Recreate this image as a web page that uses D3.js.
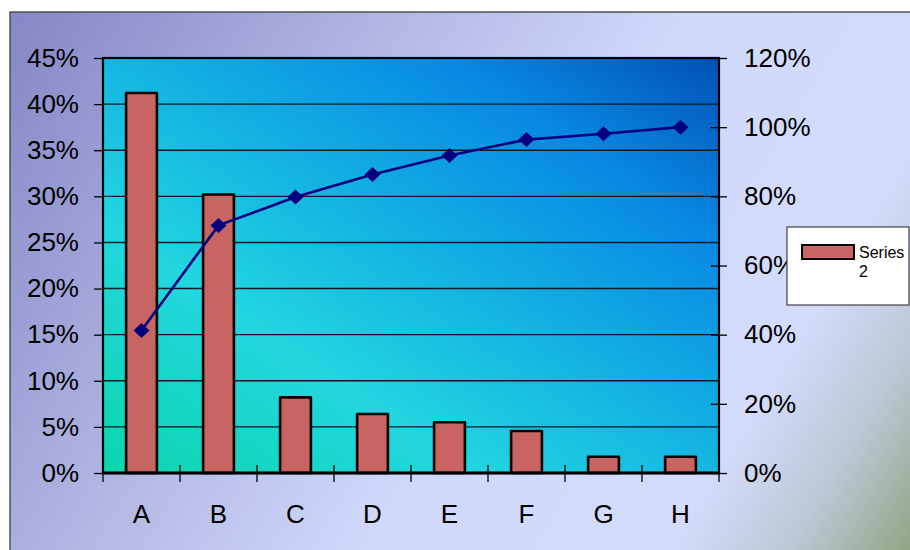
<!DOCTYPE html>
<html>
<head>
<meta charset="utf-8">
<script src="https://cdn.jsdelivr.net/npm/d3@7"></script>
<style>
  html, body { margin: 0; padding: 0; background: #fff; }
  svg { display: block; }
  text { font-family: "Liberation Sans", Arial, sans-serif; fill: #000; }
</style>
</head>
<body>
<svg id="chart" width="910" height="550"></svg>
<script>
// Pareto data: share of each category (bars, left axis) and running total (line, right axis)
const categories = ["A", "B", "C", "D", "E", "F", "G", "H"];
const shareValues = [41.2, 30.2, 8.2, 6.4, 5.5, 4.55, 1.77, 1.77];
const cumulativeValues = [41.2, 71.6, 79.8, 86.3, 91.8, 96.4, 98.1, 100];
const leftTicks = [0, 5, 10, 15, 20, 25, 30, 35, 40, 45];
const rightTicks = [0, 20, 40, 60, 80, 100, 120];
const legendLines = ["Series", "2"];

const svg = d3.select("#chart");
const defs = svg.append("defs");

// Chart-area background gradient
const bg = defs.append("linearGradient").attr("id", "bgGrad")
  .attr("gradientUnits", "userSpaceOnUse")
  .attr("x1", 10).attr("y1", 12).attr("x2", 910).attr("y2", 550);
[[0, "#8587c6"], [0.3, "#b0b4e2"], [0.55, "#d0d8fa"], [0.8, "#d4dcfc"], [0.9, "#bcc8d6"], [1, "#90a684"]]
  .forEach(([o, c]) => bg.append("stop").attr("offset", o).attr("stop-color", c));

// Plot-area gradient: teal at bottom-left to deep blue at top-right
const pg = defs.append("linearGradient").attr("id", "plotGrad")
  .attr("x1", 0).attr("y1", 1).attr("x2", 1).attr("y2", 0);
[[0, "#0cd6ac"], [0.3, "#22d6e0"], [0.55, "#12aee2"], [0.78, "#0888e4"], [1, "#0250b4"]]
  .forEach(([o, c]) => pg.append("stop").attr("offset", o).attr("stop-color", c));

svg.append("rect")
  .attr("x", 10).attr("y", 12).attr("width", 910).attr("height", 550)
  .attr("fill", "url(#bgGrad)")
  .attr("stroke", "#505058").attr("stroke-width", 1.5);

const plot = { left: 103, right: 719, top: 58, bottom: 473 };

const x = d3.scaleBand().domain(categories).range([plot.left, plot.right]).padding(0);
const yL = d3.scaleLinear().domain([0, 45]).range([plot.bottom, plot.top]);
const yR = d3.scaleLinear().domain([0, 120]).range([plot.bottom, plot.top]);

// Plot background
svg.append("rect")
  .attr("x", plot.left).attr("y", plot.top)
  .attr("width", plot.right - plot.left).attr("height", plot.bottom - plot.top)
  .attr("fill", "url(#plotGrad)");

// Horizontal gridlines
svg.append("g").selectAll("line")
  .data(leftTicks.filter(t => t > 0 && t < 45))
  .join("line")
  .attr("x1", plot.left).attr("x2", plot.right)
  .attr("y1", d => yL(d)).attr("y2", d => yL(d))
  .attr("stroke", "#0a1a24").attr("stroke-width", 1.4);

// Bars
const barW = x.bandwidth() * 0.4;
svg.append("g").selectAll("rect")
  .data(categories)
  .join("rect")
  .attr("x", d => x(d) + (x.bandwidth() - barW) / 2)
  .attr("y", (d, i) => yL(shareValues[i]))
  .attr("width", barW)
  .attr("height", (d, i) => yL(0) - yL(shareValues[i]))
  .attr("fill", "#c86562")
  .attr("stroke", "#000").attr("stroke-width", 2.6)
  .attr("stroke-linejoin", "round");

// Cumulative line
const cx = d => x(d) + x.bandwidth() / 2;
const line = d3.line()
  .x((d, i) => cx(categories[i]))
  .y(d => yR(d));
svg.append("path")
  .datum(cumulativeValues)
  .attr("d", line)
  .attr("fill", "none")
  .attr("stroke", "#00007e").attr("stroke-width", 2.6);

// Diamond markers
svg.append("g").selectAll("path")
  .data(cumulativeValues)
  .join("path")
  .attr("transform", (d, i) => `translate(${cx(categories[i])},${yR(d)})`)
  .attr("d", "M0,-7.5L8,0L0,7.5L-8,0Z")
  .attr("fill", "#00007e");

// Plot frame
svg.append("rect")
  .attr("x", plot.left).attr("y", plot.top)
  .attr("width", plot.right - plot.left).attr("height", plot.bottom - plot.top)
  .attr("fill", "none").attr("stroke", "#000").attr("stroke-width", 2.2);
svg.append("line")
  .attr("x1", plot.left - 1).attr("x2", plot.right + 1)
  .attr("y1", plot.bottom).attr("y2", plot.bottom)
  .attr("stroke", "#000").attr("stroke-width", 3);

// Left axis
const axL = svg.append("g")
  .attr("transform", `translate(${plot.left},0)`)
  .call(d3.axisLeft(yL).tickValues(leftTicks).tickFormat(d => d + "%").tickSize(9).tickPadding(15));
axL.select(".domain").remove();
axL.selectAll("line").attr("stroke", "#000").attr("stroke-width", 1.3);
axL.selectAll("text").style("font-size", "26px")
  .style("font-family", '"Liberation Sans", Arial, sans-serif');

// Right axis (cross tick marks)
const axR = svg.append("g")
  .attr("transform", `translate(${plot.right},0)`)
  .call(d3.axisRight(yR).tickValues(rightTicks).tickFormat(d => d + "%").tickSize(8).tickPadding(17));
axR.select(".domain").remove();
axR.selectAll(".tick line").attr("x1", -8).attr("stroke", "#000").attr("stroke-width", 1.3);
axR.selectAll("text").style("font-size", "26px")
  .style("font-family", '"Liberation Sans", Arial, sans-serif');

// Bottom axis labels
const axB = svg.append("g")
  .attr("transform", `translate(0,${plot.bottom})`)
  .call(d3.axisBottom(x).tickSize(0).tickPadding(31.5));
axB.select(".domain").remove();
axB.selectAll("text").style("font-size", "26px")
  .style("font-family", '"Liberation Sans", Arial, sans-serif');

// Category boundary ticks crossing the baseline
const bounds = categories.map(c => x(c)).concat([plot.right]);
svg.append("g").selectAll("line")
  .data(bounds)
  .join("line")
  .attr("x1", d => d).attr("x2", d => d)
  .attr("y1", plot.bottom - 8).attr("y2", plot.bottom + 9)
  .attr("stroke", "#000").attr("stroke-width", 1.3);

// Legend
const lg = svg.append("g");
lg.append("rect")
  .attr("x", 787).attr("y", 227).attr("width", 122).attr("height", 78)
  .attr("fill", "#fff").attr("stroke", "#404048").attr("stroke-width", 1.2);
lg.append("rect")
  .attr("x", 802).attr("y", 245).attr("width", 52).attr("height", 14)
  .attr("fill", "#c86562").attr("stroke", "#000").attr("stroke-width", 2);
lg.selectAll("text.lbl")
  .data(legendLines)
  .join("text")
  .attr("class", "lbl")
  .attr("x", 859)
  .attr("y", (d, i) => 258 + i * 18.5)
  .style("font-size", "16px")
  .text(d => d);
</script>
</body>
</html>
